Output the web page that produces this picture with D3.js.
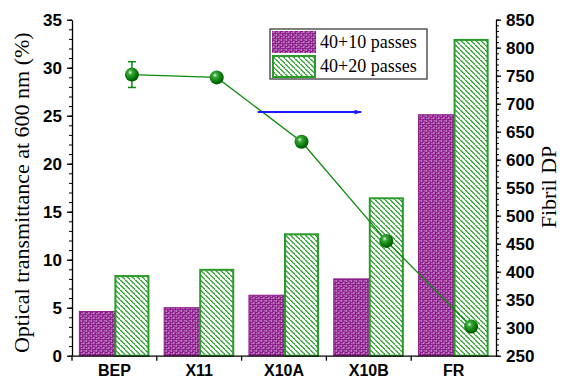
<!DOCTYPE html>
<html><head><meta charset="utf-8">
<script src="https://cdn.jsdelivr.net/npm/d3@7"></script>
<style>body{margin:0;background:#fff}svg{display:block}</style>
</head><body>
<svg id="c" width="563" height="381"></svg>
<script>
const categories = ["BEP", "X11", "X10A", "X10B", "FR"];
const seriesNames = ["40+10 passes", "40+20 passes"];
const trans10 = [4.6, 5.0, 6.3, 8.0, 25.1];
const trans20 = [8.4, 9.05, 12.75, 16.5, 33.0];
const fibrilDP = [752, 747, 632, 455, 302];
const fibrilDPErr = [23, 0, 0, 0, 0];
const leftTicks = [0, 5, 10, 15, 20, 25, 30, 35];
const rightTicks = [250, 300, 350, 400, 450, 500, 550, 600, 650, 700, 750, 800, 850];

const svg = d3.select("#c");
const L = 72, R = 496, T = 19.7, B = 355.7;
const PURPLE = "#8b1a8b", GREEN = "#1f8f1f";

const defs = svg.append("defs");
const pp = defs.append("pattern").attr("id", "pPurple").attr("patternUnits", "userSpaceOnUse").attr("width", 5).attr("height", 5);
pp.append("rect").attr("width", 5).attr("height", 5).attr("fill", PURPLE);
pp.append("path").attr("d", "M0.5,0.5h1.6v1h-1.6z M3,2.5h1.6v1h-1.6z M1.5,3h0.8v1.3h-0.8z M3.8,0.2h0.8v1h-0.8z").attr("fill", "#f2dff2");
const pg = defs.append("pattern").attr("id", "pGreen").attr("patternUnits", "userSpaceOnUse").attr("width", 5).attr("height", 5);
pg.append("rect").attr("width", 5).attr("height", 5).attr("fill", "#fff");
pg.append("path").attr("d", "M-1,0 L0.5,0.2 L4,3.6 L5.5,4.9 M-1,5 L0.5,5.2 M4,-1.4 L5.5,-0.1").attr("stroke", "#2a9a2a").attr("stroke-width", 1.3).attr("fill", "none");
const rg = defs.append("radialGradient").attr("id", "ball").attr("cx", "0.38").attr("cy", "0.35").attr("r", "0.65");
rg.append("stop").attr("offset", "0").attr("stop-color", "#dff5df");
rg.append("stop").attr("offset", "0.25").attr("stop-color", "#3aa83a");
rg.append("stop").attr("offset", "0.8").attr("stop-color", "#007000");
rg.append("stop").attr("offset", "1").attr("stop-color", "#005200");
defs.append("marker").attr("id", "arr").attr("viewBox", "0 0 12 10").attr("refX", 11).attr("refY", 5)
  .attr("markerWidth", 6).attr("markerHeight", 3).attr("orient", "auto").attr("markerUnits", "strokeWidth")
  .append("path").attr("d", "M0,1 L12,5 L0,9 z").attr("fill", "#1a1aff");

const x0 = d3.scaleBand().domain(categories).range([L, R]).padding(0);
const x1 = d3.scaleBand().domain(seriesNames).range([0, x0.bandwidth()]).paddingInner(0).paddingOuter(0.21);
const yL = d3.scaleLinear().domain([0, 35]).range([B, T]);
const yR = d3.scaleLinear().domain([250, 850]).range([B, T]);

// bars
const rows = categories.map((c, i) => ({c, v: [trans10[i], trans20[i]]}));
const g = svg.append("g");
rows.forEach(r => {
  g.append("rect").attr("x", x0(r.c) + x1(seriesNames[0])).attr("y", yL(r.v[0]))
    .attr("width", x1.bandwidth()).attr("height", yL(0) - yL(r.v[0]))
    .attr("fill", "url(#pPurple)").attr("stroke", PURPLE).attr("stroke-width", 1);
  g.append("rect").attr("x", x0(r.c) + x1(seriesNames[1]) + 1).attr("y", yL(r.v[1]) + 1)
    .attr("width", x1.bandwidth() - 2).attr("height", yL(0) - yL(r.v[1]) - 1)
    .attr("fill", "url(#pGreen)").attr("stroke", "#2a9a2a").attr("stroke-width", 2);
});

// axes
const fontTick = "'Liberation Sans', Arial, sans-serif";
function styleAxis(sel, fs) {
  sel.selectAll("path,line").attr("stroke", "#000").attr("stroke-width", 1.3);
  sel.selectAll("text").attr("font-family", fontTick).attr("font-weight", "bold").attr("font-size", fs).attr("fill", "#000");
}
svg.append("g").attr("transform", `translate(${L},0)`)
  .call(d3.axisLeft(yL).tickValues(d3.range(0, 36, 1)).tickSize(3).tickFormat(""))
  .call(s => { s.select(".domain").remove(); s.selectAll("line").attr("stroke", "#000"); });
svg.append("g").attr("transform", `translate(${L},0)`)
  .call(d3.axisLeft(yL).tickValues(leftTicks).tickSize(5).tickPadding(5).tickSizeOuter(0))
  .call(s => styleAxis(s, 17));
svg.append("g").attr("transform", `translate(${R},0)`)
  .call(d3.axisRight(yR).tickValues(d3.range(250, 851, 10)).tickSize(3).tickFormat(""))
  .call(s => { s.select(".domain").remove(); s.selectAll("line").attr("stroke", "#000"); });
svg.append("g").attr("transform", `translate(${R},0)`)
  .call(d3.axisRight(yR).tickValues(rightTicks).tickSize(5).tickPadding(5).tickSizeOuter(0))
  .call(s => styleAxis(s, 17));
const xa = svg.append("g").attr("transform", `translate(0,${B})`)
  .call(d3.axisBottom(x0).tickSize(0).tickPadding(9).tickSizeOuter(0))
  .call(s => styleAxis(s, 16));
// category boundary ticks
svg.append("g").selectAll("line").data(categories.slice(0, -1)).join("line")
  .attr("x1", d => x0(d) + x0.bandwidth()).attr("x2", d => x0(d) + x0.bandwidth())
  .attr("y1", B).attr("y2", B + 5).attr("stroke", "#000").attr("stroke-width", 1.3);
svg.append("line").attr("x1", L).attr("x2", L).attr("y1", B).attr("y2", B + 5).attr("stroke", "#000").attr("stroke-width", 1.3);

// line + points
const px = c => x0(c) + x1(seriesNames[1]) + x1.bandwidth() / 2;
const pts = categories.map((c, i) => ({c, v: fibrilDP[i], e: fibrilDPErr[i]}));
svg.append("path").datum(pts)
  .attr("d", d3.line().x(d => px(d.c)).y(d => yR(d.v)))
  .attr("fill", "none").attr("stroke", "#0a8a0a").attr("stroke-width", 1.3);
pts.filter(d => d.e > 0).forEach(d => {
  const eg = svg.append("g").attr("stroke", "#0a8a0a").attr("stroke-width", 1.5);
  eg.append("line").attr("x1", px(d.c)).attr("x2", px(d.c)).attr("y1", yR(d.v - d.e)).attr("y2", yR(d.v + d.e));
  [d.v - d.e, d.v + d.e].forEach(v => eg.append("line").attr("x1", px(d.c) - 4).attr("x2", px(d.c) + 4).attr("y1", yR(v)).attr("y2", yR(v)));
});
svg.append("g").selectAll("circle").data(pts).join("circle")
  .attr("cx", d => px(d.c)).attr("cy", d => yR(d.v)).attr("r", 7)
  .attr("fill", "url(#ball)");

// blue arrow (points toward the right axis)
svg.append("line").attr("x1", x0("X10A") + x0.bandwidth() * 0.19).attr("x2", x0("X10B") + x0.bandwidth() * 0.41)
  .attr("y1", yR(685)).attr("y2", yR(685))
  .attr("stroke", "#1a1aff").attr("stroke-width", 2).attr("marker-end", "url(#arr)");

// legend
const lg = svg.append("g").attr("transform", "translate(270,29)");
lg.append("rect").attr("width", 157).attr("height", 50).attr("fill", "#fff").attr("stroke", "#555").attr("stroke-width", 1.5);
seriesNames.forEach((s, i) => {
  lg.append("rect").attr("x", i ? 3 : 2).attr("y", (i ? 27 : 2)).attr("width", i ? 42 : 44).attr("height", i ? 21 : 22)
    .attr("fill", i ? "url(#pGreen)" : "url(#pPurple)")
    .attr("stroke", i ? "#2a9a2a" : "none").attr("stroke-width", 2);
  lg.append("text").attr("x", 50).attr("y", 19 + i * 24).text(s)
    .attr("font-family", "'Liberation Serif', 'Times New Roman', serif").attr("font-size", 18).attr("fill", "#000");
});

// axis titles
svg.append("text").attr("transform", `translate(29,${(T + B) / 2 + 5}) rotate(-90)`).attr("text-anchor", "middle")
  .attr("font-family", "'Liberation Serif', 'Times New Roman', serif").attr("font-size", 22).text("Optical transmittance at 600 nm (%)");
svg.append("text").attr("transform", `translate(556,187) rotate(-90)`).attr("text-anchor", "middle")
  .attr("font-family", "'Liberation Serif', 'Times New Roman', serif").attr("font-size", 22).text("Fibril DP");
</script>
</body></html>
